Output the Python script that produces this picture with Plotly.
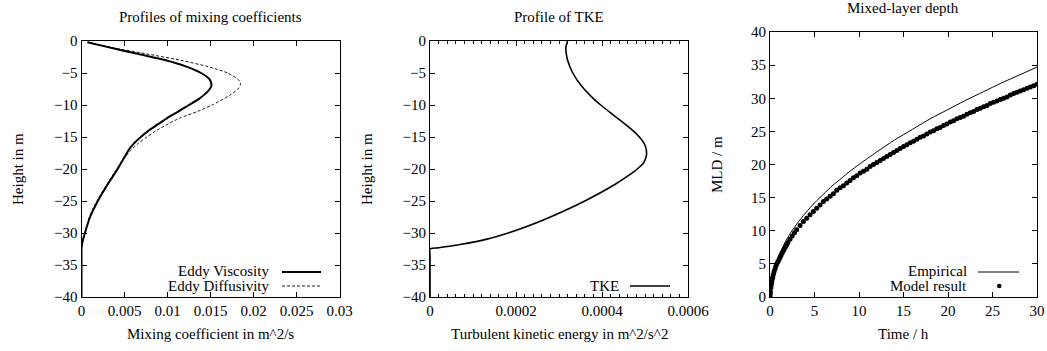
import plotly.graph_objects as go

# ---- Profiles of mixing coefficients -------------------------------------
mix_depth = [-0.2, -1, -2, -3, -4, -5, -6, -7, -8, -9, -10, -11, -12, -13, -14,
             -15, -16, -17, -18.6, -20, -22.5, -25, -27.5, -30, -31.5, -32.5, -33.5, -40]
eddy_viscosity = [0.0007, 0.0032, 0.0065, 0.0098, 0.0122, 0.0139, 0.0149, 0.0151,
                  0.0146, 0.0137, 0.0125, 0.0113, 0.0100, 0.0089, 0.0078, 0.0069,
                  0.0061, 0.0055, 0.0048, 0.0042, 0.0030, 0.0019, 0.0010, 0.0004,
                  0.0001, 0.0, 0.0, 0.0]
diff_depth = [-0.2, -1, -2, -3, -4, -5, -6, -6.7, -7.5, -8.5, -10, -11, -12, -13,
              -14, -15, -16, -17, -18.6, -20, -22.5, -25, -27.5, -30, -31.5, -32.5,
              -33.5, -40]
eddy_diffusivity = [0.0007, 0.0035, 0.0075, 0.0115, 0.0147, 0.0170, 0.0182, 0.0185,
                    0.0182, 0.0172, 0.0152, 0.0135, 0.0115, 0.0100, 0.0087, 0.0076,
                    0.0066, 0.0058, 0.0048, 0.0041, 0.0029, 0.0018, 0.0009, 0.0004,
                    0.0001, 0.0, 0.0, 0.0]

# ---- Profile of TKE -------------------------------------------------------
tke_depth = [0, -1, -2, -3, -5, -7, -9, -10, -12, -14, -15, -16, -17, -18, -19,
             -20, -21, -22.5, -25, -27.5, -29, -30, -31, -31.8, -32.3, -32.5, -33.5, -40]
tke = [0.000320, 0.000316, 0.000317, 0.000320, 0.000332, 0.000352, 0.000380,
       0.000397, 0.000435, 0.000472, 0.000487, 0.000498, 0.000503, 0.000503,
       0.000497, 0.000482, 0.000462, 0.000428, 0.000360, 0.000280, 0.000225,
       0.000182, 0.000130, 0.000070, 0.000020, 0.0, 0.0, 0.0]

# ---- Mixed-layer depth ----------------------------------------------------
emp_time = [0, 0.1, 0.25, 0.5, 1, 2, 3, 4, 5, 6, 7, 8, 9, 10, 12, 14, 16, 18,
            20, 22, 24, 26, 28, 30]
emp_mld = [0, 2.0, 3.2, 4.5, 6.3, 9.0, 11.0, 12.7, 14.2, 15.5, 16.8, 17.9, 19.0,
           20.0, 21.9, 23.7, 25.3, 26.9, 28.3, 29.7, 31.0, 32.3, 33.5, 34.7]

# model output: dense during the first hours, then every 0.375 h
model_time = [0, 0.025, 0.05, 0.1, 0.15, 0.2, 0.25, 0.3, 0.375, 0.45, 0.55, 0.65,
              0.75, 0.875, 1.0, 1.125, 1.25, 1.375, 1.5, 1.625, 1.75, 1.875, 2.0,
              2.25, 2.5, 2.75, 3.0] + [0.375 * k for k in range(9, 81)]
model_mld = [0.0, 0.4, 0.8, 1.4, 1.9, 2.3, 2.7, 3.0, 3.4, 3.8, 4.2, 4.6,
             5.0, 5.3, 5.6, 5.95, 6.3, 6.65, 7.0, 7.3, 7.6, 7.9, 8.2,
             8.7, 9.2, 9.7, 10.15,
             10.8, 11.4, 11.9, 12.4,
             12.9, 13.4, 13.9, 14.4, 14.8, 15.2, 15.6, 16.1, 16.5, 16.8, 17.2,
             17.6, 18.0, 18.3, 18.7, 19.0, 19.3, 19.7, 20.0, 20.3, 20.6, 20.9,
             21.2, 21.5, 21.8, 22.1, 22.4, 22.7, 23.0, 23.3, 23.5, 23.8, 24.1,
             24.3, 24.6, 24.9, 25.1, 25.4, 25.6, 25.9, 26.1, 26.4, 26.6, 26.9,
             27.1, 27.3, 27.6, 27.8, 28.0, 28.3, 28.5, 28.7, 28.9, 29.2, 29.4,
             29.6, 29.8, 30.0, 30.2, 30.5, 30.7, 30.9, 31.1, 31.3, 31.5, 31.7,
             31.9, 32.1]

FONT = "Liberation Serif"
W, H = 1047, 351


def px_x(p):
    return p / W


def px_y(p):
    return 1 - p / H


fig = go.Figure()

fig.add_trace(go.Scatter(x=eddy_viscosity, y=mix_depth, mode="lines",
                         line=dict(color="black", width=2, shape="spline", smoothing=0.7),
                         xaxis="x", yaxis="y", showlegend=False))
fig.add_trace(go.Scatter(x=eddy_diffusivity, y=diff_depth, mode="lines",
                         line=dict(color="black", width=0.9, dash="3px,2px",
                                   shape="spline", smoothing=0.7),
                         xaxis="x", yaxis="y", showlegend=False))
fig.add_trace(go.Scatter(x=tke, y=tke_depth, mode="lines",
                         line=dict(color="black", width=1.6, shape="spline", smoothing=0.7),
                         xaxis="x2", yaxis="y2", showlegend=False))
fig.add_trace(go.Scatter(x=emp_time, y=emp_mld, mode="lines",
                         line=dict(color="black", width=1, shape="spline", smoothing=0.8),
                         xaxis="x3", yaxis="y3", showlegend=False))
fig.add_trace(go.Scatter(x=model_time, y=model_mld, mode="markers",
                         marker=dict(color="black", size=5),
                         xaxis="x3", yaxis="y3", showlegend=False))

axis_common = dict(showline=True, linecolor="black", linewidth=1, mirror="allticks",
                   ticks="inside", ticklen=5, tickcolor="black", tickwidth=1,
                   showgrid=False, zeroline=False, automargin=False,
                   tickfont=dict(family=FONT, size=15, color="black"))

fig.update_layout(
    width=W, height=H,
    margin=dict(l=0, r=0, t=0, b=0, pad=0, autoexpand=False),
    paper_bgcolor="white", plot_bgcolor="white",
    xaxis=dict(domain=[px_x(81.5), px_x(339.5)], range=[0, 0.03], dtick=0.005,
               tickformat="~g", anchor="y", **axis_common),
    yaxis=dict(domain=[px_y(297), px_y(41)], range=[-40, 0], dtick=5,
               anchor="x", **axis_common),
    xaxis2=dict(domain=[px_x(430), px_x(688)], range=[0, 0.0006], dtick=0.0002,
                tickformat="~g", anchor="y2",
                minor=dict(ticks="inside", dtick=0.00002, ticklen=3, tickcolor="black"),
                **axis_common),
    yaxis2=dict(domain=[px_y(297), px_y(41)], range=[-40, 0], dtick=5,
                anchor="x2", **axis_common),
    xaxis3=dict(domain=[px_x(770), px_x(1037)], range=[0, 30], dtick=5,
                anchor="y3", **axis_common),
    yaxis3=dict(domain=[px_y(297), px_y(32)], range=[0, 40], dtick=5,
                anchor="x3", **axis_common),
)

ann = []


def text(x, y, s, xanchor="center", angle=0):
    ann.append(dict(x=px_x(x), y=px_y(y), xref="paper", yref="paper", text=s,
                    showarrow=False, xanchor=xanchor, yanchor="middle",
                    textangle=angle, font=dict(family=FONT, size=15, color="black")))


# panel titles
text(210, 17, "Profiles of mixing coefficients")
text(559, 17, "Profile of TKE")
text(903, 8, "Mixed-layer depth")
# axis titles
text(210, 334, "Mixing coefficient in m^2/s")
text(559, 334, "Turbulent kinetic energy in m^2/s^2")
text(903, 334, "Time / h")
text(18, 169, "Height in m", angle=-90)
text(367, 169, "Height in m", angle=-90)
text(717, 165, "MLD / m", angle=-90)
# key texts
text(271, 271, "Eddy Viscosity", xanchor="right")
text(271, 286, "Eddy Diffusivity", xanchor="right")
text(621, 286, "TKE", xanchor="right")
text(969, 271, "Empirical", xanchor="right")
text(969, 286, "Model result", xanchor="right")
fig.update_layout(annotations=ann)

# key samples
shapes = [
    dict(type="line", xref="paper", yref="paper", x0=px_x(282), x1=px_x(321),
         y0=px_y(272), y1=px_y(272), line=dict(color="black", width=2)),
    dict(type="line", xref="paper", yref="paper", x0=px_x(282), x1=px_x(321),
         y0=px_y(286), y1=px_y(286), line=dict(color="black", width=0.9, dash="3px,2px")),
    dict(type="line", xref="paper", yref="paper", x0=px_x(630), x1=px_x(670),
         y0=px_y(286), y1=px_y(286), line=dict(color="black", width=1.6)),
    dict(type="line", xref="paper", yref="paper", x0=px_x(978), x1=px_x(1019),
         y0=px_y(272), y1=px_y(272), line=dict(color="black", width=1)),
    dict(type="circle", xref="paper", yref="paper", x0=px_x(997), x1=px_x(1001.5),
         y0=px_y(288.2), y1=px_y(283.8), fillcolor="black", line=dict(width=0)),
]
fig.update_layout(shapes=shapes)

fig.write_html("out.html")
